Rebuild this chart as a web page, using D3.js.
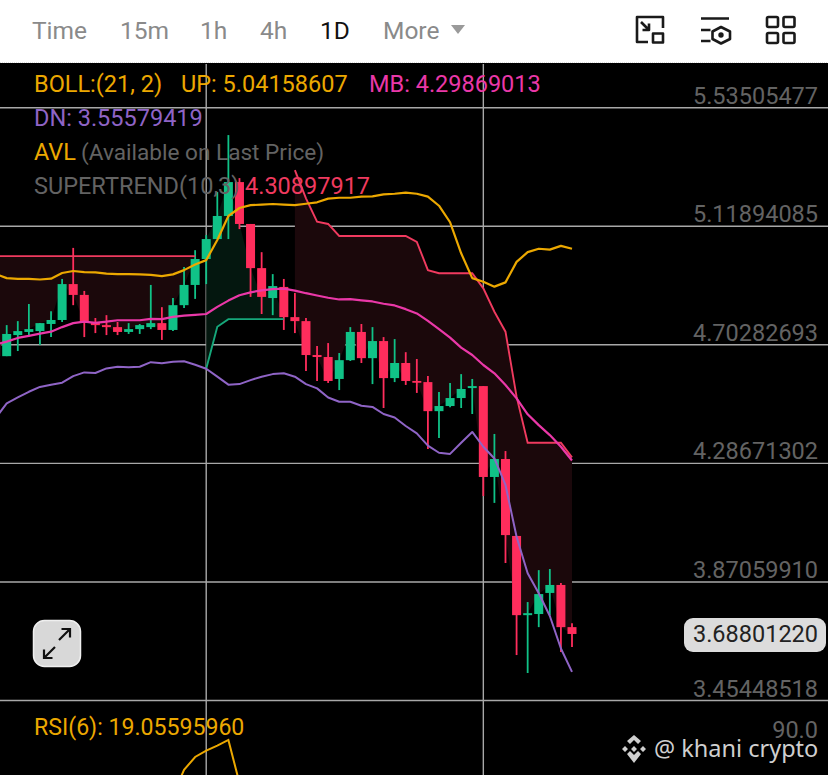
<!DOCTYPE html>
<html><head><meta charset="utf-8">
<script src="https://cdn.jsdelivr.net/npm/d3@7/dist/d3.min.js"></script>
<style>html,body{margin:0;padding:0;background:#000;overflow:hidden}svg{display:block}text{font-family:Roboto,sans-serif}</style>
</head><body><svg id="c" width="828" height="775"></svg>
<script>
// Candles, first entry sits one step left of the visible area
const opens=[4.72,4.663,4.737,4.748,4.751,4.776,4.790,4.916,4.878,4.783,4.772,4.765,4.748,4.758,4.765,4.779,4.755,4.842,4.913,5.004,5.074,5.155,5.274,5.127,4.972,4.867,4.906,4.800,4.786,4.667,4.660,4.583,4.649,4.748,4.656,4.716,4.586,4.639,4.576,4.572,4.470,4.488,4.516,4.551,4.558,4.239,4.302,4.032,3.754,3.758,3.832,3.860,3.712];
const highs=[4.741,4.772,4.786,4.846,4.779,4.821,4.934,5.043,4.892,4.797,4.807,4.783,4.779,4.776,4.913,4.835,4.867,4.976,5.035,5.088,5.239,5.439,5.288,5.127,5.028,4.951,4.934,4.885,4.797,4.699,4.709,4.674,4.765,4.776,4.765,4.730,4.723,4.677,4.653,4.593,4.537,4.569,4.600,4.583,4.558,4.390,4.330,4.032,3.800,3.912,3.916,3.867,3.726];
const lows=[4.66,4.663,4.681,4.737,4.702,4.730,4.783,4.842,4.730,4.744,4.737,4.737,4.741,4.741,4.758,4.720,4.751,4.832,4.864,4.916,5.074,5.074,5.109,4.871,4.811,4.807,4.755,4.744,4.611,4.576,4.569,4.544,4.646,4.639,4.565,4.481,4.572,4.562,4.534,4.337,4.376,4.484,4.481,4.460,4.172,4.148,3.937,3.614,3.551,3.712,3.754,3.625,3.642];
const closes=[4.663,4.741,4.751,4.758,4.779,4.790,4.916,4.878,4.783,4.772,4.765,4.748,4.758,4.772,4.779,4.755,4.842,4.913,5.004,5.074,5.155,5.274,5.127,4.972,4.871,4.909,4.800,4.786,4.667,4.660,4.576,4.649,4.748,4.656,4.716,4.586,4.639,4.576,4.572,4.470,4.488,4.516,4.548,4.558,4.239,4.302,4.035,3.754,3.761,3.828,3.860,3.712,3.688];
// Bollinger bands
const bollUp=[4.951,4.937,4.934,4.934,4.932,4.935,4.955,4.962,4.958,4.957,4.953,4.951,4.951,4.950,4.948,4.944,4.950,4.965,4.985,5.000,5.071,5.155,5.183,5.193,5.195,5.197,5.195,5.193,5.198,5.203,5.216,5.219,5.219,5.223,5.224,5.231,5.233,5.237,5.233,5.223,5.191,5.133,5.024,4.937,4.924,4.907,4.922,4.994,5.028,5.040,5.037,5.050,5.040];
const bollMid=[4.704,4.714,4.727,4.734,4.742,4.749,4.765,4.779,4.784,4.780,4.784,4.789,4.789,4.789,4.794,4.793,4.801,4.805,4.808,4.811,4.836,4.858,4.877,4.887,4.894,4.898,4.900,4.893,4.884,4.876,4.868,4.862,4.863,4.859,4.855,4.847,4.841,4.828,4.813,4.787,4.758,4.728,4.693,4.667,4.632,4.603,4.562,4.515,4.459,4.421,4.386,4.345,4.297];
const bollDn=[4.446,4.497,4.518,4.538,4.555,4.563,4.570,4.593,4.606,4.604,4.620,4.626,4.624,4.626,4.642,4.638,4.643,4.645,4.633,4.619,4.591,4.563,4.565,4.579,4.591,4.600,4.603,4.591,4.565,4.550,4.518,4.503,4.503,4.489,4.485,4.460,4.448,4.418,4.392,4.349,4.324,4.320,4.359,4.397,4.345,4.304,4.211,4.029,3.901,3.831,3.751,3.637,3.555];
// Supertrend, split by trend
const superRedA=[5.014,5.014,5.014,5.014,5.014,5.014,5.014,5.014,5.014,5.014,5.014,5.014,5.014,5.014,5.014,5.014,5.014,5.014,5.014];
const superGreen=[4.619,4.766,4.793,4.793,4.793,4.793,4.793,4.793];
const superRedB=[5.316,5.217,5.135,5.127,5.085,5.085,5.085,5.085,5.085,5.085,5.085,5.064,4.965,4.954,4.954,4.954,4.954,4.901,4.819,4.749,4.521,4.359,4.359,4.359,4.359,4.308];
const startRedA=-1,startGreen=18,startRedB=26;
// RSI(6): x index and value
const rsiIdx=[15,16,17,18,19,20,21,22];
const rsiVals=[73.3,81.7,86,88.1,89.8,91.7,77.3,65];
// Axes & text
const priceTicks=[5.53505477,5.11894085,4.70282693,4.28671302,3.87059910,3.45448518];
const gridIdx=[18,43];
const tabs=["Time","15m","1h","4h","1D","More"];
const lastPrice=3.68801220;

const svg=d3.select("#c");
const W=828,H=775,plotTop=64,FS=23.5;
const x=d3.scaleLinear().domain([0,51]).range([6.7,572]);
const y=d3.scaleLinear().domain([5.53505477,3.45448518]).range([107.7,700.5]);
const yR=d3.scaleLinear().domain([90,0]).range([745,1015]);
const idx=i=>i-1; // array position -> candle index

svg.append("rect").attr("width",W).attr("height",H).attr("fill","#000");
// grid
const gridC="#a8a8a8";
svg.append("g").selectAll("line").data(priceTicks).join("line")
 .attr("x1",0).attr("x2",W).attr("y1",d=>y(d)).attr("y2",d=>y(d)).attr("stroke",gridC).attr("stroke-width",1.4);
svg.append("g").selectAll("line").data(gridIdx).join("line")
 .attr("x1",d=>x(d)).attr("x2",d=>x(d)).attr("y1",plotTop).attr("y2",H).attr("stroke",gridC).attr("stroke-width",1.4);

// supertrend fills
const seg=(vals,start)=>vals.map((v,i)=>({k:start+i,v,c:closes[start+i+1]}));
const area=d3.area().x(d=>x(d.k)).y0(d=>y(d.c)).y1(d=>y(d.v));
const lineS=d3.line().x(d=>x(d.k)).y(d=>y(d.v));
[[superRedA,startRedA,"#1b080b"],[superGreen,startGreen,"#04170f"],[superRedB,startRedB,"#1b080b"]].forEach(([v,s,f])=>{
  svg.append("path").attr("d",area(seg(v,s))).attr("fill",f);
});

// candles
const up="#10c287",down="#ff2d5c";
const cd=opens.map((o,i)=>({k:idx(i),o,h:highs[i],l:lows[i],c:closes[i]}));
const g=svg.append("g");
g.selectAll("line").data(cd).join("line")
 .attr("x1",d=>x(d.k)).attr("x2",d=>x(d.k)).attr("y1",d=>y(d.h)).attr("y2",d=>y(d.l))
 .attr("stroke",d=>d.c>=d.o?up:down).attr("stroke-width",1.8);
g.selectAll("rect").data(cd).join("rect")
 .attr("x",d=>x(d.k)-4.5).attr("width",9)
 .attr("y",d=>y(Math.max(d.o,d.c))).attr("height",d=>Math.max(1.8,Math.abs(y(d.o)-y(d.c))))
 .attr("fill",d=>d.c>=d.o?up:down);

// supertrend lines
[[superRedA,startRedA,"#f03a5f"],[superGreen,startGreen,"#16a87b"],[superRedB,startRedB,"#f03a5f"]].forEach(([v,s,c])=>{
  svg.append("path").attr("d",lineS(seg(v,s))).attr("fill","none").attr("stroke",c).attr("stroke-width",1.9);
});
// bollinger
const lineB=d3.line().x((d,i)=>x(idx(i))).y(d=>y(d));
[[bollUp,"#eca800",2.2],[bollMid,"#ea38a8",2.2],[bollDn,"#8f64c6",2]].forEach(([v,c,w])=>{
  svg.append("path").attr("d",lineB(v)).attr("fill","none").attr("stroke",c).attr("stroke-width",w).attr("stroke-linejoin","round");
});

// RSI
svg.append("path").attr("d",d3.line().x((d,i)=>x(rsiIdx[i])).y(d=>yR(d))(rsiVals))
 .attr("fill","none").attr("stroke","#eca800").attr("stroke-width",2);

// price axis
const ax=svg.append("g").attr("transform",`translate(818,0)`)
 .call(d3.axisLeft(y).tickValues(priceTicks).tickSize(0).tickPadding(0).tickFormat(d3.format(".8f")));
ax.select(".domain").remove();
ax.selectAll("text").attr("dy",-4.5).attr("fill","#636363").style("font-size",FS+"px").style("font-family","Roboto,sans-serif");

// legend
const lg=(t,px,py,c,fs)=>svg.append("text").attr("x",px).attr("y",py).attr("fill",c).attr("font-size",fs||FS).text(t);
lg("BOLL:(21, 2)",34,92,"#eca800");
lg("UP: 5.04158607",181,92,"#eca800");
lg("MB: 4.29869013",369,92,"#ea38a8");
lg("DN: 3.55579419",34,126,"#8f64c6");
lg("AVL",34,160,"#eca800");
lg("(Available on Last Price)",81,160,"#636363",22.6);
lg("SUPERTREND(10,3)",34,194,"#636363");
lg("4.30897917",245,194,"#f03a5f");
lg("RSI(6): 19.05595960",34,735,"#eca800",23.1);
svg.append("text").attr("x",818).attr("y",738).attr("text-anchor","end").attr("fill","#636363").attr("font-size",FS).text("90.0");

// last price badge
svg.append("rect").attr("x",684).attr("y",618).attr("width",142).attr("height",34).attr("rx",9).attr("fill","#dcdcdc");
svg.append("text").attr("x",818).attr("y",y(lastPrice)+8.5).attr("text-anchor","end").attr("fill","#222").attr("font-size",FS).text(d3.format(".8f")(lastPrice));

// expand button
const b=svg.append("g");
b.append("rect").attr("x",33.5).attr("y",620.5).attr("width",47).attr("height",46).attr("rx",11).attr("fill","#d8d8d8").attr("stroke","#efefef").attr("stroke-width",1.5);
b.append("path").attr("d","M59 640 L70 629 M61.5 629 H70 V637.5 M55 647 L44 658 M44 649.5 V658 H52.5").attr("fill","none").attr("stroke","#111").attr("stroke-width",2.2);

// header
svg.append("rect").attr("width",W).attr("height",63).attr("fill","#fff");
svg.append("line").attr("x1",0).attr("x2",W).attr("y1",62.5).attr("y2",62.5).attr("stroke","#ddd").attr("stroke-dasharray","1 1");
const tabX=[32,120,200,260,320,383];
svg.append("g").selectAll("text").data(tabs).join("text")
 .attr("x",(d,i)=>tabX[i]).attr("y",39).attr("font-size",24.5)
 .attr("fill",d=>d==="1D"?"#111":"#8a8a8a").text(d=>d);
svg.append("path").attr("d","M451 25 H465 L458 34 Z").attr("fill","#9a9a9a");
const ic=svg.append("g").attr("fill","none").attr("stroke","#1a1a1a").attr("stroke-width",2.6).attr("stroke-linejoin","round");
ic.append("path").attr("d","M648 42 H637 V17 H663 V28");
ic.append("rect").attr("x",653).attr("y",33.5).attr("width",10).attr("height",9);
ic.append("path").attr("d","M641 22 L649 30 M649 23.5 V30 H642.5");
ic.append("path").attr("d","M701 18.5 H729 M701 30 H710.5 M701 41 H710.5");
ic.append("path").attr("d","M721 27 L730 31.5 V39 L721 43.5 L712.5 39 V31.5 Z");
ic.append("circle").attr("cx",721).attr("cy",35).attr("r",1.4).attr("fill","#1a1a1a");
[[767,17],[783.5,17],[767,33],[783.5,33]].forEach(([a,c])=>ic.append("rect").attr("x",a).attr("y",c).attr("width",11).attr("height",10).attr("rx",1.5));

// watermark
const wm=svg.append("g").attr("fill","#cfcfcf");
wm.append("path").attr("d","M634 735 L641 741 L638 744 L634 740 L630 744 L627 741 Z M622 749 L625 746 L628 749 L625 752 Z M640 749 L643 746 L646 749 L643 752 Z M631 749 L634 746 L637 749 L634 752 Z M627 754 L630 751 L634 755 L638 751 L641 754 L634 763 Z");
svg.append("text").attr("x",654).attr("y",757).attr("fill","#cfcfcf").attr("font-size",23.5).style("font-family","'Noto Sans',sans-serif").text("@ khani crypto");
</script></body></html>
